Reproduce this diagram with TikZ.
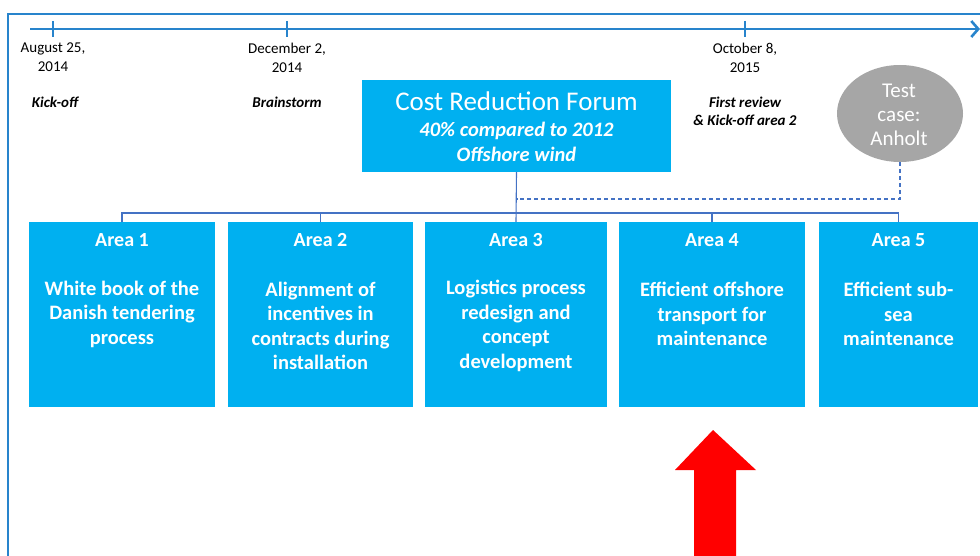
\documentclass[tikz,border=0pt]{standalone}
\usepackage{fontspec}
\setmainfont{Carlito}
\usetikzlibrary{shapes.geometric,arrows.meta}
\definecolor{cyanbox}{RGB}{0,176,240}
\definecolor{frameblue}{RGB}{40,132,204}
\definecolor{linkblue}{RGB}{68,114,196}
\definecolor{greyell}{RGB}{166,166,166}
\tikzset{
  areabox/.style={fill=cyanbox, draw=none, minimum width=#1, minimum height=185, inner sep=0},
  areatitle/.style={text=white, font=\bfseries\fontsize{20}{22}\selectfont, inner sep=0},
  areatext/.style={text=white, font=\bfseries\fontsize{20.5}{24.5}\selectfont, align=center, inner sep=0},
  datetext/.style={font=\fontsize{15}{19}\selectfont, align=center, inner sep=0},
  eventtext/.style={font=\bfseries\itshape\fontsize{15}{18}\selectfont, align=center, inner sep=0},
  conn/.style={draw=linkblue, line width=1.1pt},
  tick/.style={draw=frameblue, line width=2.4pt},
}
\begin{document}
\begin{tikzpicture}[x=1pt,y=-1pt]
\useasboundingbox (0,0) rectangle (980,556);
% frame
\draw[frameblue, line width=2pt] (8,600) -- (8,14) -- (1000,14);
% timeline
\coordinate (tl0) at (30,29);
\coordinate (tl1) at (980,29);
\draw[frameblue, line width=2.6pt, -{Straight Barb[length=7pt,width=16pt,line width=2.6pt]}] (tl0) -- (tl1);
\foreach \x in {53,287,745} \draw[tick] (\x,21) -- (\x,37);
% dates
\node[datetext] (d1) at (53,57.5) {August 25,\\2014};
\node[datetext] (d2) at (287,57.5) {December 2,\\2014};
\node[datetext] (d3) at (745,57.5) {October 8,\\2015};
\node[eventtext] (e1) at (55,102) {Kick-off};
\node[eventtext] (e2) at (287,102) {Brainstorm};
\node[eventtext] (e3) at (745,111) {First review\\\& Kick-off area 2};
% forum
\node[fill=cyanbox, minimum width=309, minimum height=92, inner sep=0] (forum) at (516.5,126) {};
\node[text=white, font=\fontsize{27}{29}\selectfont, inner sep=0] (ft) at (516.5,101.5) {Cost Reduction Forum};
\node[text=white, font=\bfseries\itshape\fontsize{20.5}{24.5}\selectfont, align=center, inner sep=0] (fs) at (516.5,142) {40\% compared to 2012\\Offshore wind};
% ellipse
\node[ellipse, fill=greyell, minimum width=126, minimum height=97, inner sep=0] (test) at (900,113.5) {};
\node[text=white, font=\fontsize{21}{24}\selectfont, align=center, inner sep=0] (tt) at (899,114.5) {Test\\case:\\Anholt};
% boxes
\node[areabox=186] (b1) at (122,314.5) {};
\node[areabox=185] (b2) at (320.5,314.5) {};
\node[areabox=182] (b3) at (516,314.5) {};
\node[areabox=186] (b4) at (712,314.5) {};
\node[areabox=159] (b5) at (898.5,314.5) {};
\node[areatitle] at (122,240) {Area 1};
\node[areatitle] at (320.5,240) {Area 2};
\node[areatitle] at (516,240) {Area 3};
\node[areatitle] at (712,240) {Area 4};
\node[areatitle] at (898.5,240) {Area 5};
\node[areatext] at (122,314) {White book of the\\Danish tendering\\process};
\node[areatext] at (320.5,326) {Alignment of\\incentives in\\contracts during\\installation};
\node[areatext] at (516,326) {Logistics process\\redesign and\\concept\\development};
\node[areatext] at (712,314) {Efficient offshore\\transport for\\maintenance};
\node[areatext] at (898.5,314) {Efficient sub-\\sea\\maintenance};
% connectors
\coordinate (bus) at (516,213);
\draw[conn] (forum.south) -- (b3.north);
\draw[conn] (b1.north) -- (b1.north |- bus) -- (b5.north |- bus) -- (b5.north);
\draw[conn] (b2.north |- bus) -- (b2.north);
\draw[conn] (b4.north |- bus) -- (b4.north);
\draw[conn, dashed, dash pattern=on 4pt off 3pt] (test.south) -- (test.south |- 0,199) -- (forum.south |- 0,199);
% red arrow
\fill[red] (713,430) -- (756,470) -- (736,470) -- (736,560) -- (694,560) -- (694,470) -- (675,470) -- cycle;
\end{tikzpicture}
\end{document}
